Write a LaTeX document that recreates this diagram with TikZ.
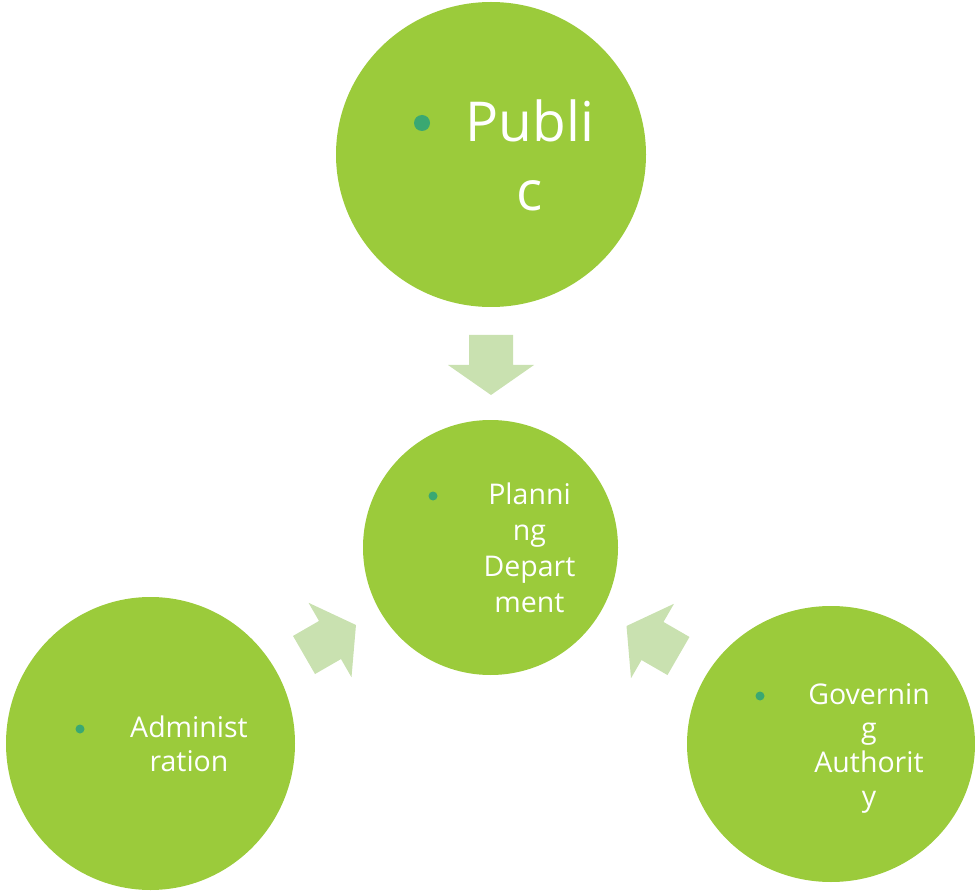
\documentclass[tikz,border=0pt]{standalone}
\usepackage{fontspec}
\setmainfont{Open Sans}
\usetikzlibrary{shapes.geometric}
\definecolor{circgreen}{HTML}{9BCB3B}
\definecolor{arrgreen}{HTML}{C9E1B0}
\definecolor{dotgreen}{HTML}{3AA872}
\begin{document}
\begin{tikzpicture}[x=1pt,y=-1pt,
  bubble/.style={ellipse, fill=circgreen, inner sep=0pt, draw=none},
  dot/.style={circle, fill=dotgreen, inner sep=0pt},
  label/.style={text=white, align=center, anchor=base, inner sep=0pt},
  blockarrow/.style={fill=arrgreen}]
\useasboundingbox (0,0) rectangle (975,893);
% bubbles
\node[bubble, minimum width=310pt, minimum height=305pt] (pub) at (491,154.5) {};
\node[bubble, minimum width=255pt, minimum height=255pt] (plan) at (490.5,547.5) {};
\node[bubble, minimum width=289pt, minimum height=293pt] (adm) at (150.5,743.5) {};
\node[bubble, minimum width=288pt, minimum height=276pt] (gov) at (831,744) {};
% bullets
\node[dot, minimum size=16pt] (pubdot) at (422,123) {};
\node[dot, minimum size=9pt] (plandot) at (433,496) {};
\node[dot, minimum size=9pt] (admdot) at (80,729) {};
\node[dot, minimum size=9pt] (govdot) at (760,696) {};
% texts (anchor = baseline of the last line)
\node[label, font=\fontsize{55}{69}\selectfont] (pubtext) at (530,211) {Publi\\c};
\node[label, font=\fontsize{28.5}{36}\selectfont] (plantext) at (529.5,612) {Planni\\ng\\Depart\\ment};
\node[label, font=\fontsize{28.5}{34}\selectfont] (admtext) at (189,771) {Administ\\ration};
\node[label, font=\fontsize{28.5}{34}\selectfont] (govtext) at (869,806) {Governin\\g\\Authorit\\y};
% block arrows
\coordinate (a1) at (491,365);
\coordinate (a2) at (330,640);
\coordinate (a3) at (652.5,641);
\foreach \c/\ang in {a1/-90, a2/30, a3/150}{
  \fill[blockarrow, shift={(\c)}, rotate=\ang]
    (-30,-22) -- (0,-22) -- (0,-43) -- (30,0) -- (0,43) -- (0,22) -- (-30,22) -- cycle;
}
\end{tikzpicture}
\end{document}
